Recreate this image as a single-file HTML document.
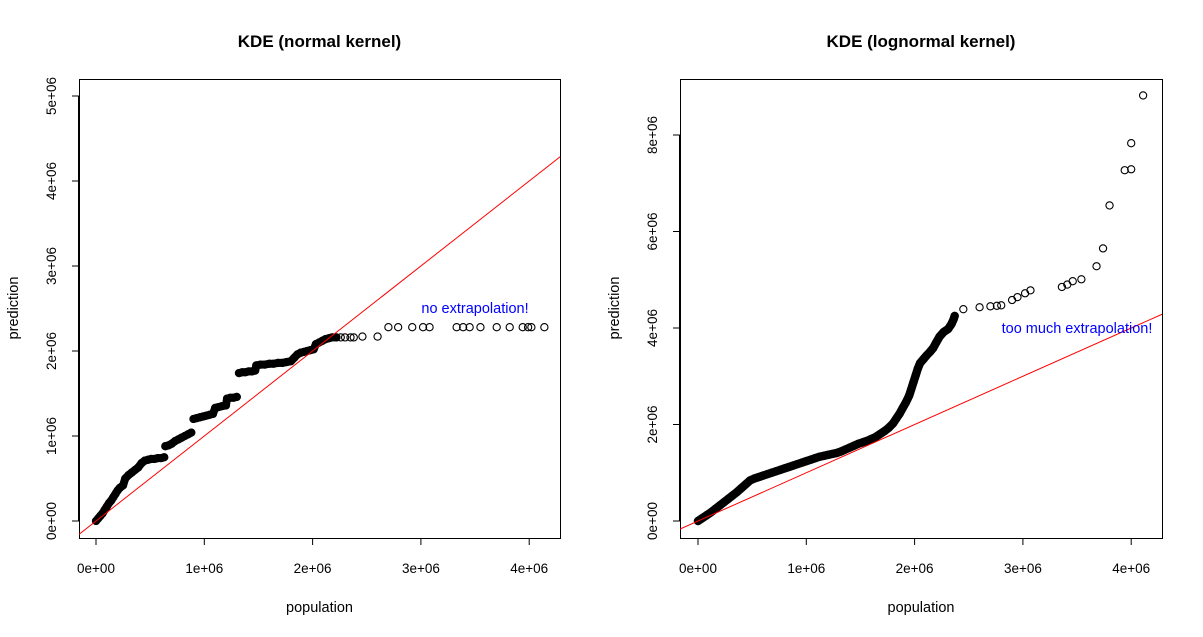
<!DOCTYPE html>
<html><head><meta charset="utf-8"><style>
html,body{margin:0;padding:0;background:#fff}
svg{display:block;font-family:"Liberation Sans",sans-serif}
</style></head><body>
<svg id="chart" width="1203" height="637" viewBox="0 0 1203 637" xmlns="http://www.w3.org/2000/svg"></svg>
<script>
// values in millions
const leftPopulation = [0,0.02,0.04,0.06,0.08,0.1,0.12,0.14,0.16,0.18,0.2,0.22,0.25,0.27,0.3,0.33,0.36,0.39,0.42,0.45,0.48,0.51,0.54,0.57,0.6,0.63,
0.64,0.67,0.7,0.73,0.76,0.79,0.82,0.85,0.88,
0.9,0.93,0.96,0.99,1.02,1.05,1.08,
1.1,1.13,1.16,1.2,
1.21,1.24,1.27,1.3,
1.32,1.35,1.38,1.41,1.44,1.47,
1.48,1.52,1.56,1.6,1.64,1.68,1.72,1.76,1.8,
1.83,1.86,1.89,1.92,1.95,1.98,2.01,
2.03,2.06,2.09,2.12,2.15,2.18,2.22,2.26,2.3,2.35,2.38,2.46,2.6,
2.7,2.79,2.92,3.02,3.08,3.33,3.39,3.45,3.55,3.7,3.82,3.94,3.99,4.02,4.14];
const leftPrediction = [0,0.03,0.06,0.09,0.13,0.17,0.21,0.24,0.28,0.32,0.36,0.39,0.42,0.5,0.54,0.57,0.6,0.63,0.68,0.71,0.72,0.73,0.73,0.74,0.74,0.75,
0.88,0.89,0.91,0.94,0.96,0.98,1.0,1.02,1.04,
1.2,1.21,1.22,1.23,1.24,1.25,1.26,
1.33,1.34,1.35,1.36,
1.44,1.45,1.45,1.46,
1.74,1.75,1.75,1.76,1.76,1.77,
1.83,1.84,1.84,1.85,1.85,1.86,1.86,1.87,1.88,
1.92,1.96,1.98,1.99,2.0,2.01,2.02,
2.08,2.1,2.12,2.14,2.15,2.16,2.16,2.16,2.16,2.16,2.16,2.17,2.17,
2.28,2.28,2.28,2.28,2.28,2.28,2.28,2.28,2.28,2.28,2.28,2.28,2.28,2.28,2.28];
const rightPopulation = [0,0.04,0.08,0.12,0.16,0.2,0.24,0.28,0.32,0.36,0.4,0.44,0.48,0.52,0.56,0.6,0.64,0.68,0.72,0.76,0.8,0.84,0.88,0.92,0.96,1.0,1.04,1.08,1.12,1.16,1.2,1.24,1.28,1.32,1.36,1.4,1.44,1.48,1.52,1.56,1.6,1.64,1.68,1.72,1.76,1.8,1.83,1.86,1.89,1.92,1.95,1.97,1.99,2.01,2.03,2.05,2.08,2.11,2.14,2.17,2.2,2.23,2.27,2.31,2.34,2.36,2.37,
2.45,2.6,2.7,2.76,2.8,2.9,2.95,3.02,3.07,3.36,3.41,3.46,3.54,3.68,3.74,3.8,3.94,4.0,4.0,4.11];
const rightPrediction = [0,0.06,0.12,0.18,0.25,0.32,0.39,0.46,0.53,0.6,0.68,0.76,0.84,0.88,0.91,0.94,0.97,1.0,1.03,1.06,1.09,1.12,1.15,1.18,1.21,1.24,1.27,1.3,1.33,1.35,1.37,1.39,1.41,1.44,1.48,1.52,1.56,1.6,1.63,1.66,1.7,1.74,1.8,1.86,1.93,2.02,2.12,2.22,2.34,2.46,2.6,2.74,2.88,3.02,3.16,3.27,3.35,3.43,3.5,3.58,3.7,3.82,3.92,3.98,4.08,4.18,4.25,
4.39,4.43,4.45,4.46,4.47,4.58,4.64,4.72,4.78,4.85,4.9,4.97,5.01,5.28,5.65,6.54,7.27,7.29,7.83,8.82];
const leftYTicks = [0,1,2,3,4,5];
const rightYTicks = [0,2,4,6,8];
const xTicks = [0,1,2,3,4];

const NS = "http://www.w3.org/2000/svg";
const svg = document.getElementById('chart');
function mk(tag, attrs, parent){
  const e = document.createElementNS(NS, tag);
  for (const k in attrs) e.setAttribute(k, attrs[k]);
  (parent||svg).appendChild(e);
  return e;
}
function panel(cfg){
  const g = mk('g', {});
  
  
  const sx = v => cfg.x0 + v*cfg.xs;
  const sy = v => cfg.y0 - v*cfg.ys;
  const clipId = cfg.name + '-clip';
  const cp = mk('clipPath', {id: clipId}, g);
  mk('rect', {x:cfg.L, y:79, width:cfg.R-cfg.L, height:538-79}, cp);
  const box = mk('rect', {x:cfg.L+0.5, y:79.5, width:cfg.R-cfg.L, height:538-79, fill:'none', stroke:'#000', 'stroke-width':1}, g);
  
  
  const xa = mk('g', {}, g);
  
  
  mk('line', {x1:sx(xTicks[0]), x2:sx(xTicks[xTicks.length-1]), y1:538.5, y2:538.5, stroke:'#000'}, xa);
  xTicks.forEach(t => {
    mk('line', {x1:sx(t), x2:sx(t), y1:538, y2:545, stroke:'#000'}, xa);
    const tx = mk('text', {x:sx(t), y:573, 'text-anchor':'middle', 'font-size':13.5, fill:'#000'}, xa);
    tx.textContent = t + 'e+0' + (t===0?'0':'6');
    
    
  });
  const ya = mk('g', {}, g);
  
  
  const yt = cfg.yTicks;
  mk('line', {x1:cfg.L-0.5, x2:cfg.L-0.5, y1:sy(yt[0]), y2:sy(yt[yt.length-1]), stroke:'#000'}, ya);
  yt.forEach(t => {
    mk('line', {x1:cfg.L-7, x2:cfg.L, y1:sy(t), y2:sy(t), stroke:'#000'}, ya);
    const tx = mk('text', {x:0, y:0, transform:`translate(${cfg.L-23},${sy(t)}) rotate(-90)`, 'text-anchor':'middle', 'font-size':13.5, fill:'#000'}, ya);
    tx.textContent = t + 'e+0' + (t===0?'0':'6');
    
    
  });
  const title = mk('text', {x:(cfg.L+cfg.R)/2, y:47, 'text-anchor':'middle', 'font-size':17, 'font-weight':'bold', fill:'#000'}, g);
  title.textContent = cfg.title;
  
  
  const xl = mk('text', {x:(cfg.L+cfg.R)/2, y:612, 'text-anchor':'middle', 'font-size':14.5, fill:'#000'}, g);
  xl.textContent = 'population';
  
  
  const yl = mk('text', {x:0, y:0, transform:`translate(${cfg.L-61},308) rotate(-90)`, 'text-anchor':'middle', 'font-size':14.5, fill:'#000'}, g);
  yl.textContent = 'prediction';
  
  
  const pts = mk('g', {'clip-path':`url(#${clipId})`}, g);
  
  
  // dense bands (overplotted region only): consecutive close points merged into thick strokes
  let seg = [];
  const flush = () => {
    if (seg.length > 1) {
      const pl = mk('polyline', {points: seg.map(p=>p.join(',')).join(' '), fill:'none', stroke:'#000', 'stroke-width':cfg.bandW, 'stroke-linecap':'round', 'stroke-linejoin':'round'}, pts);
      
      
    }
    seg = [];
  };
  cfg.xs_data.forEach((v,i) => {
    if (i >= cfg.denseCount) return;
    const p = [sx(v), sy(cfg.ys_data[i])];
    if (seg.length) {
      const q = seg[seg.length-1];
      if (Math.hypot(p[0]-q[0], p[1]-q[1]) > 9) flush();
    }
    seg.push(p);
  });
  flush();
  cfg.xs_data.forEach((v,i) => {
    const c = mk('circle', {cx:sx(v), cy:sy(cfg.ys_data[i]), r:3.6, fill:'none', stroke:'#000', 'stroke-width':1.1}, pts);
    
    
  });
  const lo = -1, hi = 10;
  const ln = mk('line', {x1:sx(lo), y1:sy(lo), x2:sx(hi), y2:sy(hi), stroke:'#ff0000', 'stroke-width':1, 'clip-path':`url(#${clipId})`}, g);
  
  
  const ann = mk('text', {x:cfg.annX, y:cfg.annY, 'text-anchor':'middle', 'font-size':14.5, fill:'#0000ff'}, g);
  ann.textContent = cfg.ann;
  
  
}
panel({name:'left-panel', title:'KDE (normal kernel)', L:79, R:560, x0:96, xs:108.3, y0:521, ys:85, denseCount:79, bandW:8,
  yTicks:leftYTicks, xs_data:leftPopulation, ys_data:leftPrediction, ann:'no extrapolation!', annX:475, annY:313});
panel({name:'right-panel', title:'KDE (lognormal kernel)', L:680, R:1162, x0:698, xs:108.3, y0:521, ys:48.25, denseCount:67, bandW:8.4,
  yTicks:rightYTicks, xs_data:rightPopulation, ys_data:rightPrediction, ann:'too much extrapolation!', annX:1077, annY:333});
</script>
</body></html>
